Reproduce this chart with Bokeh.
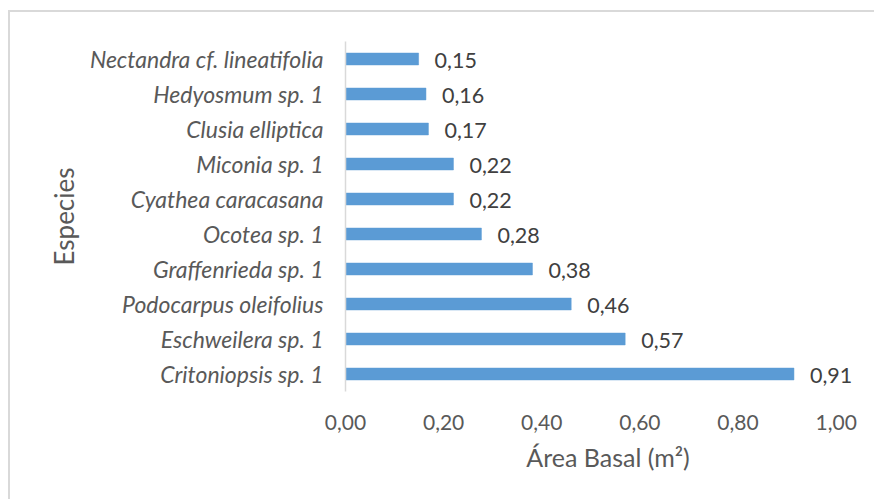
from bokeh.plotting import figure
from bokeh.models import ColumnDataSource, FixedTicker, CustomJSTickFormatter, Range1d
from bokeh.core.properties import value
from bokeh.embed import file_html
from bokeh.resources import INLINE

species = ["Critoniopsis sp. 1", "Eschweilera sp. 1", "Podocarpus oleifolius",
           "Graffenrieda sp. 1", "Ocotea sp. 1", "Cyathea caracasana",
           "Miconia sp. 1", "Clusia elliptica", "Hedyosmum sp. 1",
           "Nectandra cf. lineatifolia"]
area = [0.914, 0.57, 0.46, 0.381, 0.277, 0.22, 0.22, 0.169, 0.164, 0.149]
labels = ["0,91", "0,57", "0,46", "0,38", "0,28", "0,22", "0,22", "0,17", "0,16", "0,15"]
x_ticks = [0.0, 0.2, 0.4, 0.6, 0.8, 1.0]

FONT = "Lato"
GREY = "#595959"

src = ColumnDataSource(dict(y=species, x=area, lab=labels))

p = figure(y_range=species, x_range=Range1d(0, 1.07), width=866, height=489,
           output_backend="svg", toolbar_location=None,
           min_border_left=335, min_border_right=6, min_border_top=29,
           min_border_bottom=110)
p.styles = {"border-top": "2px solid #d9d9d9", "border-left": "2px solid #d9d9d9",
            "margin-top": "10px", "margin-left": "8px"}
p.outline_line_color = None
p.xgrid.grid_line_color = None
p.ygrid.grid_line_color = None

p.hbar(y="y", right="x", left=0, height=0.34, source=src,
       fill_color="#5B9BD5", line_color="#5B9BD5", line_width=0.5)
p.text(x="x", y="y", text="lab", source=src, x_offset=16, y_offset=1,
       text_align="left", text_baseline="middle",
       text_font=value(FONT), text_font_size="21.5px", text_color="#404040")

xa = p.xaxis[0]
xa.ticker = FixedTicker(ticks=x_ticks)
xa.formatter = CustomJSTickFormatter(code="return tick.toFixed(2).replace('.', ',');")
xa.axis_line_color = None
xa.major_tick_line_color = None
xa.minor_tick_line_color = None
xa.major_label_text_font = FONT
xa.major_label_text_font_size = "21px"
xa.major_label_text_color = GREY
xa.major_label_standoff = 17
xa.axis_label = "Área Basal (m²)"
xa.axis_label_text_font = FONT
xa.axis_label_text_font_size = "25px"
xa.axis_label_text_font_style = "normal"
xa.axis_label_text_color = GREY
xa.axis_label_standoff = 9

ya = p.yaxis[0]
ya.axis_line_color = "#d9d9d9"
ya.axis_line_width = 1.5
ya.major_tick_line_color = None
ya.minor_tick_line_color = None
ya.major_label_text_font = FONT
ya.major_label_text_font_size = "23px"
ya.major_label_text_font_style = "italic"
ya.major_label_text_color = GREY
ya.major_label_standoff = 16
ya.axis_label = "Especies"
ya.axis_label_text_font = FONT
ya.axis_label_text_font_size = "26px"
ya.axis_label_text_font_style = "normal"
ya.axis_label_text_color = GREY
ya.axis_label_standoff = 7

open("out.html", "w").write(file_html(p, INLINE))
